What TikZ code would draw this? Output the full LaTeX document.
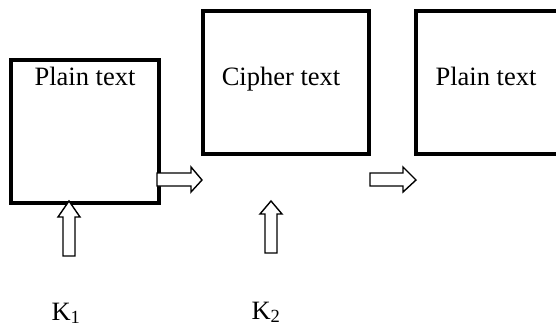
\documentclass[tikz,border=0pt]{standalone}
\usepackage{fontspec}
\setmainfont{Liberation Serif}
\begin{document}
\begin{tikzpicture}[x=1pt,y=-1pt,
  box/.style={draw=black,line width=3.2pt},
  blockarrow/.style={draw=black,line width=1.4pt,fill=white,line join=miter},
  lbl/.style={inner sep=0pt,anchor=base,font=\fontsize{26.5}{31}\selectfont}]
\useasboundingbox (0,0) rectangle (556,327);
\clip (0,0) rectangle (556,327);
% boxes
\draw[box] (11,60) rectangle (159,203);
\draw[box] (203,11) rectangle (369,154);
\draw[box] (416,11) rectangle (590,154);
\node[lbl] (t1) at (85,85) {Plain text};
\node[lbl] (t2) at (281,85) {Cipher text};
\node[lbl] (t3) at (486,85) {Plain text};
% horizontal arrows
\draw[blockarrow] (157,173) -- (191,173) -- (191,167) -- (202,180) -- (191,192) -- (191,186) -- (157,186) -- cycle;
\draw[blockarrow] (370,173) -- (403,173) -- (403,167) -- (416,180) -- (403,192) -- (403,186) -- (370,186) -- cycle;
% vertical arrows
\draw[blockarrow] (63,256) -- (63,217) -- (58,217) -- (69,201) -- (80,217) -- (75,217) -- (75,256) -- cycle;
\draw[blockarrow] (265,253) -- (265,214) -- (260,214) -- (271,201) -- (282,214) -- (277,214) -- (277,253) -- cycle;
% keys
\node[lbl] (k1) at (66,320) {K\textsubscript{1}};
\node[lbl] (k2) at (266,319) {K\textsubscript{2}};
\end{tikzpicture}
\end{document}
